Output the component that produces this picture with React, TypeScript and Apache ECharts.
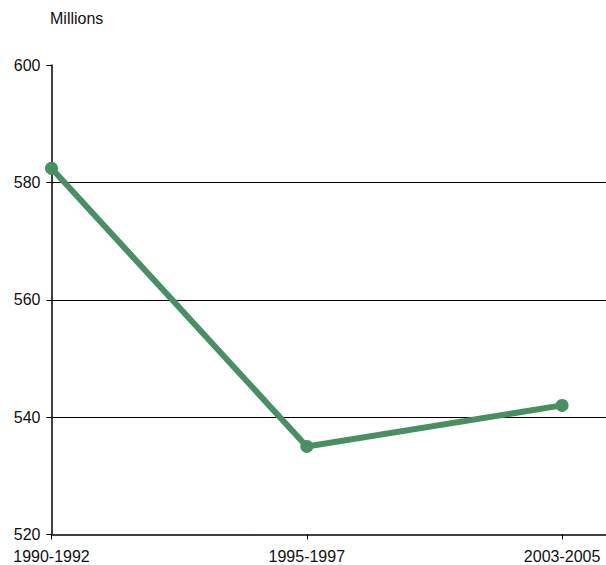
import React, { useEffect, useRef } from "react";
import * as echarts from "echarts";

const categories = ["1990-1992", "1995-1997", "2003-2005"];
const values = [582.4, 535, 542];
const yTicks = { min: 520, max: 600, interval: 20 };
const unitLabel = "Millions";

export default function App() {
  const ref = useRef<HTMLDivElement>(null);
  useEffect(() => {
    if (!ref.current) return;
    const chart = echarts.init(ref.current, undefined, { renderer: "svg" });
    const font = "Liberation Sans, Arial, Helvetica, sans-serif";
    chart.setOption({
      animation: false,
      grid: { left: 51.5, right: 0, top: 65, bottom: 30.5, containLabel: false },
      graphic: [
        {
          type: "text",
          left: 50,
          top: 10,
          style: { text: unitLabel, font: `16px ${font}`, fill: "#111" },
        },
      ],
      xAxis: {
        type: "value",
        min: 0,
        max: 2.172,
        interval: 1,
        axisLine: { show: true, lineStyle: { color: "#000", width: 1.5 } },
        axisTick: { show: true, length: 5, lineStyle: { color: "#000", width: 1 } },
        splitLine: { show: false },
        axisLabel: {
          margin: 14,
          fontSize: 16,
          fontFamily: font,
          color: "#111",
          showMaxLabel: false,
          formatter: (v: number) =>
            Number.isInteger(v) && categories[v] !== undefined ? categories[v] : "",
        },
      },
      yAxis: {
        type: "value",
        min: yTicks.min,
        max: yTicks.max,
        interval: yTicks.interval,
        axisLine: { show: true, lineStyle: { color: "#000", width: 1.5 } },
        axisTick: { show: true, length: 5, lineStyle: { color: "#000", width: 1 } },
        splitLine: {
          show: true,
          showMinLine: false,
          showMaxLine: false,
          lineStyle: { color: "#000", width: 1 },
        },
        axisLabel: { margin: 11, fontSize: 16, fontFamily: font, color: "#111" },
      },
      series: [
        {
          type: "line",
          data: values.map((v, i) => [i, v]),
          symbol: "circle",
          symbolSize: 13,
          lineStyle: { color: "#4a8f64", width: 6 },
          itemStyle: { color: "#4a8f64" },
        },
      ],
    });
    return () => chart.dispose();
  }, []);
  return (
    <div
      ref={ref}
      style={{ position: "fixed", left: 0, top: 0, width: 606, height: 565, background: "#fff" }}
    />
  );
}
